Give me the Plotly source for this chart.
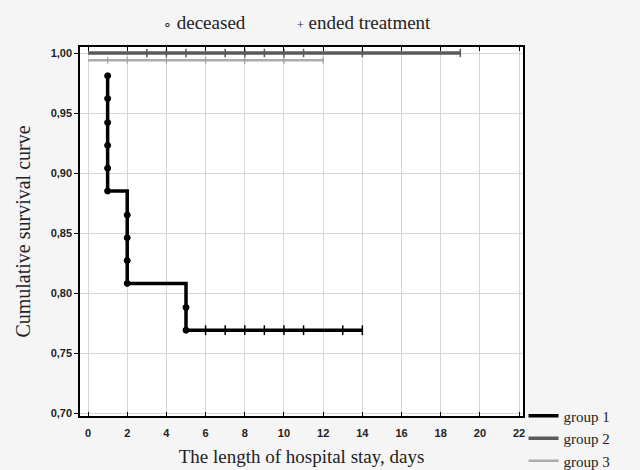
import plotly.graph_objects as go

# Group 1 (Kaplan-Meier steps)
g1_dead_t = [1, 1, 1, 1, 1, 1, 2, 2, 2, 2, 5, 5]
g1_dead_s = [0.981, 0.962, 0.942, 0.923, 0.904, 0.885, 0.865, 0.846, 0.827, 0.808, 0.788, 0.769]
g1_cens_t = [6, 7, 8, 9, 10, 11, 13, 14]
g1_cens_s = [0.769] * 8

# Group 2 (no deaths)
g2_t = [0, 3, 4, 5, 7, 8, 9, 10, 11, 14, 19]
g2_s = [1.0] * 11
g2_cens_t = [3, 4, 5, 7, 8, 9, 10, 11, 14, 19]

# Group 3 (no deaths)
g3_t = [0, 1, 2, 4, 6, 8, 10, 12]
g3_s = [0.994] * 8
g3_cens_t = [1, 2, 4, 6, 8, 10, 12]

x_ticks = list(range(0, 23, 2))
y_ticks = [0.70, 0.75, 0.80, 0.85, 0.90, 0.95, 1.00]
y_tick_text = ["0,70", "0,75", "0,80", "0,85", "0,90", "0,95", "1,00"]

fig = go.Figure()

g1_line_t = g1_dead_t + g1_cens_t
g1_line_s = g1_dead_s + g1_cens_s

fig.add_trace(go.Scatter(x=g2_t, y=g2_s, mode="lines", line=dict(color="#5a5a5a", width=3.5),
                         name="group 2", legendrank=2))
fig.add_trace(go.Scatter(x=g3_t, y=g3_s, mode="lines", line=dict(color="#ababab", width=2.5),
                         name="group 3", legendrank=3))
fig.add_trace(go.Scatter(x=g1_line_t, y=g1_line_s, mode="lines", line=dict(color="black", width=3.5, shape="hv"),
                         name="group 1", legendrank=1))

fig.add_trace(go.Scatter(x=g2_cens_t, y=[1.0] * len(g2_cens_t), mode="markers",
                         marker=dict(symbol="line-ns", size=6, color="#5a5a5a", line=dict(color="#5a5a5a", width=1.5)),
                         showlegend=False))
fig.add_trace(go.Scatter(x=g3_cens_t, y=[0.994] * len(g3_cens_t), mode="markers",
                         marker=dict(symbol="line-ns", size=5, color="#a0a0a0", line=dict(color="#a0a0a0", width=1.2)),
                         showlegend=False))
fig.add_trace(go.Scatter(x=g1_dead_t, y=g1_dead_s, mode="markers",
                         marker=dict(symbol="circle", size=6, color="black", line=dict(color="black", width=1)),
                         showlegend=False))
fig.add_trace(go.Scatter(x=g1_cens_t, y=g1_cens_s, mode="markers",
                         marker=dict(symbol="line-ns", size=7, color="black", line=dict(color="black", width=1.5)),
                         showlegend=False))

serif = "Liberation Serif, Times New Roman, serif"
sans = "Liberation Sans, Arial, sans-serif"

fig.update_layout(
    width=640, height=470,
    margin=dict(l=80, r=117, t=47, b=54, autoexpand=False),
    paper_bgcolor="#f5f5f5",
    plot_bgcolor="white",
    showlegend=True,
    legend=dict(xref="container", yref="container", x=0.818, xanchor="left", y=0.15, yanchor="top",
                traceorder="normal",
                font=dict(family=serif, size=15, color="#222"), bgcolor="rgba(0,0,0,0)",
                tracegroupgap=0, itemwidth=30),
    annotations=[
        dict(xref="paper", yref="paper", x=0.28, y=1.0, yshift=25, xanchor="center", yanchor="middle",
             text="<span style='font-size:14px'>∘</span> deceased", showarrow=False,
             font=dict(family=serif, size=19, color="#222")),
        dict(xref="paper", yref="paper", x=0.641, y=1.0, yshift=25, xanchor="center", yanchor="middle",
             text="<span style='font-size:12px'>+</span> ended treatment", showarrow=False,
             font=dict(family=serif, size=19, color="#222")),
    ],
    xaxis=dict(range=[-0.41, 22.2], tickvals=x_ticks, ticks="inside", ticklen=4, tickcolor="black",
               ticklabelstandoff=6,
               showline=True, linecolor="black", linewidth=1.5, mirror="ticks",
               showgrid=True, gridcolor="#d6d6d6", gridwidth=1, zeroline=False,
               tickfont=dict(family=sans, size=11, color="#222", weight="bold"),
               title=dict(text="The length of hospital stay, days", font=dict(family=serif, size=19, color="#222"),
                          standoff=12)),
    yaxis=dict(range=[0.6975, 1.005], tickvals=y_ticks, ticktext=y_tick_text, ticks="outside", ticklen=4,
               tickcolor="black", showline=True, linecolor="black", linewidth=1.5, mirror=True,
               showgrid=True, gridcolor="#d6d6d6", gridwidth=1, zeroline=False,
               tickfont=dict(family=sans, size=11, color="#222", weight="bold"),
               title=dict(text="Cumulative survival curve", font=dict(family=serif, size=20, color="#222"),
                          standoff=15)),
)

fig.write_html("out.html", post_script="document.body.style.margin='0';",
               config={"displayModeBar": False})
